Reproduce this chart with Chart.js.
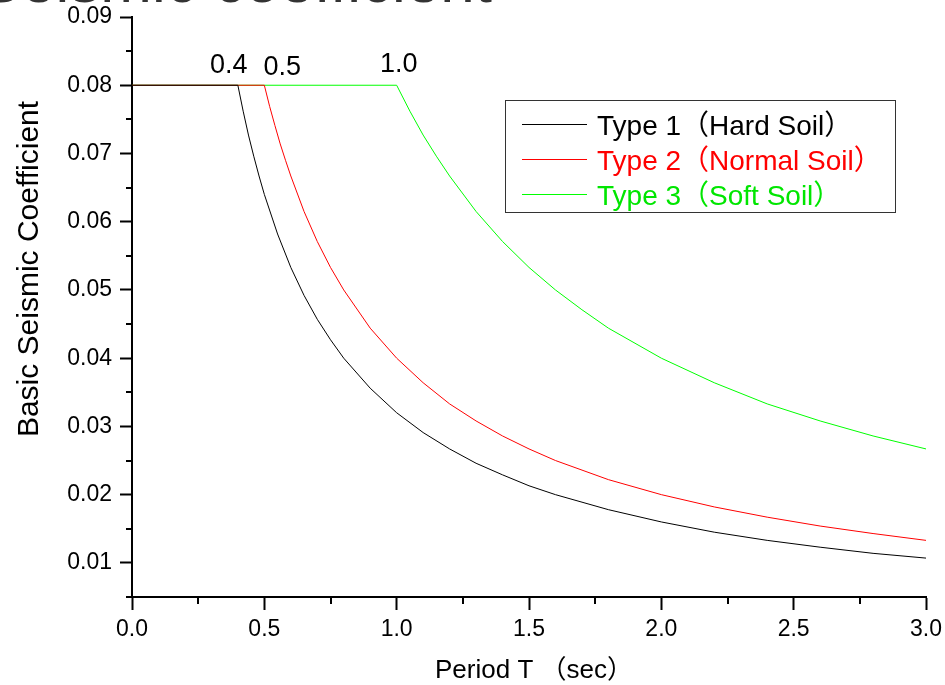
<!DOCTYPE html>
<html>
<head>
<meta charset="utf-8">
<script src="https://cdn.jsdelivr.net/npm/chart.js@4.4.1/dist/chart.umd.min.js"></script>
<style>
html,body{margin:0;padding:0;background:#fff;}
#wrap{width:945px;height:685px;position:relative;}
</style>
</head>
<body>
<div id="wrap"><canvas id="c" width="945" height="685"></canvas></div>
<script>
// ---- data ----
const seriesLabels = ['Type 1（Hard Soil）', 'Type 2（Normal Soil）', 'Type 3（Soft Soil）'];

const type1T = [0, 0.40, 0.42, 0.44, 0.46, 0.48, 0.50, 0.55, 0.60, 0.65, 0.70, 0.75, 0.80, 0.90, 1.00, 1.10, 1.20, 1.30, 1.40, 1.50, 1.60, 1.80, 2.00, 2.20, 2.40, 2.60, 2.80, 3.00];
const type1C = [0.0800, 0.0800, 0.0762, 0.0727, 0.0696, 0.0667, 0.0640, 0.0582, 0.0533, 0.0492, 0.0457, 0.0427, 0.0400, 0.0356, 0.0320, 0.0291, 0.0267, 0.0246, 0.0229, 0.0213, 0.0200, 0.0178, 0.0160, 0.0145, 0.0133, 0.0123, 0.0114, 0.0107];

const type2T = [0, 0.50, 0.52, 0.54, 0.56, 0.58, 0.60, 0.65, 0.70, 0.75, 0.80, 0.90, 1.00, 1.10, 1.20, 1.30, 1.40, 1.50, 1.60, 1.80, 2.00, 2.20, 2.40, 2.60, 2.80, 3.00];
const type2C = [0.0800, 0.0800, 0.0769, 0.0741, 0.0714, 0.0690, 0.0667, 0.0615, 0.0571, 0.0533, 0.0500, 0.0444, 0.0400, 0.0364, 0.0333, 0.0308, 0.0286, 0.0267, 0.0250, 0.0222, 0.0200, 0.0182, 0.0167, 0.0154, 0.0143, 0.0133];

const type3T = [0, 1.00, 1.05, 1.10, 1.15, 1.20, 1.30, 1.40, 1.50, 1.60, 1.70, 1.80, 2.00, 2.20, 2.40, 2.60, 2.80, 3.00];
const type3C = [0.0800, 0.0800, 0.0762, 0.0727, 0.0696, 0.0667, 0.0615, 0.0571, 0.0533, 0.0500, 0.0471, 0.0444, 0.0400, 0.0364, 0.0333, 0.0308, 0.0286, 0.0267];

const xTicks = [0, 0.5, 1.0, 1.5, 2.0, 2.5, 3.0];
const xMinorTicks = [0.25, 0.75, 1.25, 1.75, 2.25, 2.75];
const yTicks = [0.01, 0.02, 0.03, 0.04, 0.05, 0.06, 0.07, 0.08, 0.09];
const yMinorTicks = [0.005, 0.015, 0.025, 0.035, 0.045, 0.055, 0.065, 0.075, 0.085];

const cornerT = [0.4, 0.5, 1.0];
const cornerLabels = ['0.4', '0.5', '1.0'];

const xTitle = 'Period T （sec）';
const yTitle = 'Basic Seismic Coefficient';
const topTitle = 'Basic Seismic coefficient';

// ---- styles ----
const lineColors = ['#000000', '#ff0000', '#00ff00'];
const textColors = ['#000000', '#ff0000', '#00e600'];
const latin = '"Liberation Sans", Arial, "Noto Sans CJK JP", sans-serif';

function pts(T, C) { return T.map((t, i) => ({ x: t, y: C[i] })); }

const extras = {
  id: 'extras',
  afterDraw(chart) {
    const ctx = chart.ctx;
    const xs = chart.scales.x, ys = chart.scales.y;
    const ca = chart.chartArea;
    ctx.save();
    // minor ticks
    ctx.strokeStyle = '#000';
    ctx.lineWidth = 2;
    xMinorTicks.forEach(v => {
      const px = Math.round(xs.getPixelForValue(v));
      ctx.beginPath();
      ctx.moveTo(px, ca.bottom);
      ctx.lineTo(px, ca.bottom + 7);
      ctx.stroke();
    });
    yMinorTicks.forEach(v => {
      const py = Math.round(ys.getPixelForValue(v));
      ctx.beginPath();
      ctx.moveTo(ca.left, py);
      ctx.lineTo(ca.left - 6, py);
      ctx.stroke();
    });
    // corner labels
    const dx = [-9, 18, 2];
    const dy = [-12, -10, -13];
    ctx.fillStyle = '#000';
    ctx.font = '27px ' + latin;
    ctx.textAlign = 'center';
    ctx.textBaseline = 'alphabetic';
    cornerT.forEach((t, i) => {
      ctx.fillText(cornerLabels[i], xs.getPixelForValue(t) + dx[i], ys.getPixelForValue(0.08) + dy[i]);
    });
    // y title
    ctx.save();
    ctx.translate(38, 269);
    ctx.rotate(-Math.PI / 2);
    ctx.font = '30px ' + latin;
    ctx.textAlign = 'center';
    ctx.textBaseline = 'alphabetic';
    ctx.fillText(yTitle, 0, 0);
    ctx.restore();
    // x title
    ctx.font = '26px ' + latin;
    ctx.textAlign = 'left';
    ctx.textBaseline = 'alphabetic';
    ctx.fillText(xTitle, 435, 678);
    // cut-off top title
    ctx.font = '62px ' + latin;
    ctx.fillStyle = '#333';
    ctx.textAlign = 'right';
    ctx.textBaseline = 'alphabetic';
    ctx.fillText(topTitle, 492, 2);
    // legend
    const bx = 505, by = 100, bw = 390, bh = 112;
    ctx.fillStyle = '#fff';
    ctx.fillRect(bx, by, bw, bh);
    ctx.strokeStyle = '#333';
    ctx.lineWidth = 1;
    ctx.strokeRect(bx + 0.5, by + 0.5, bw, bh);
    const rows = [124, 159, 194];
    ctx.font = '28px ' + latin;
    ctx.textAlign = 'left';
    ctx.textBaseline = 'alphabetic';
    chart.data.datasets.forEach((ds, i) => {
      ctx.strokeStyle = ds.borderColor;
      ctx.beginPath();
      ctx.moveTo(522, rows[i] + 0.5);
      ctx.lineTo(587, rows[i] + 0.5);
      ctx.stroke();
      ctx.fillStyle = textColors[i];
      ctx.fillText(ds.label, 597, rows[i] + 11);
    });
    ctx.restore();
  }
};

new Chart(document.getElementById('c'), {
  type: 'line',
  data: {
    datasets: [
      { label: seriesLabels[0], data: pts(type1T, type1C), borderColor: lineColors[0], borderWidth: 1, pointRadius: 0, tension: 0, fill: false },
      { label: seriesLabels[1], data: pts(type2T, type2C), borderColor: lineColors[1], borderWidth: 1, pointRadius: 0, tension: 0, fill: false },
      { label: seriesLabels[2], data: pts(type3T, type3C), borderColor: lineColors[2], borderWidth: 1, pointRadius: 0, tension: 0, fill: false }
    ]
  },
  options: {
    responsive: false,
    animation: false,
    events: [],
    layout: { padding: { top: 17, right: 19, left: 0, bottom: 0 } },
    plugins: { legend: { display: false }, tooltip: { enabled: false }, title: { display: false } },
    scales: {
      x: {
        type: 'linear', min: 0, max: 3,
        afterBuildTicks: s => { s.ticks = xTicks.map(v => ({ value: v })); },
        afterFit: s => { s.height = 88; s.paddingLeft = 0; s.paddingRight = 0; },
        ticks: { color: '#000', font: { family: latin, size: 23 }, padding: 6, maxRotation: 0, autoSkip: false, callback: v => Number(v).toFixed(1) },
        grid: { drawOnChartArea: false, drawTicks: true, tickLength: 13, tickWidth: 2, tickColor: '#000' },
        border: { display: true, color: '#000', width: 2 },
        title: { display: false }
      },
      y: {
        type: 'linear', min: 0.005, max: 0.09,
        afterBuildTicks: s => { s.ticks = yTicks.map(v => ({ value: v })); },
        afterFit: s => { s.width = 132; s.paddingTop = 0; s.paddingBottom = 0; },
        ticks: { color: '#000', font: { family: latin, size: 23 }, padding: 8, autoSkip: false, callback: v => Number(v).toFixed(2) },
        grid: { drawOnChartArea: false, drawTicks: true, tickLength: 12, tickWidth: 2, tickColor: '#000' },
        border: { display: true, color: '#000', width: 2 },
        title: { display: false }
      }
    }
  },
  plugins: [extras]
});
</script>
</body>
</html>
